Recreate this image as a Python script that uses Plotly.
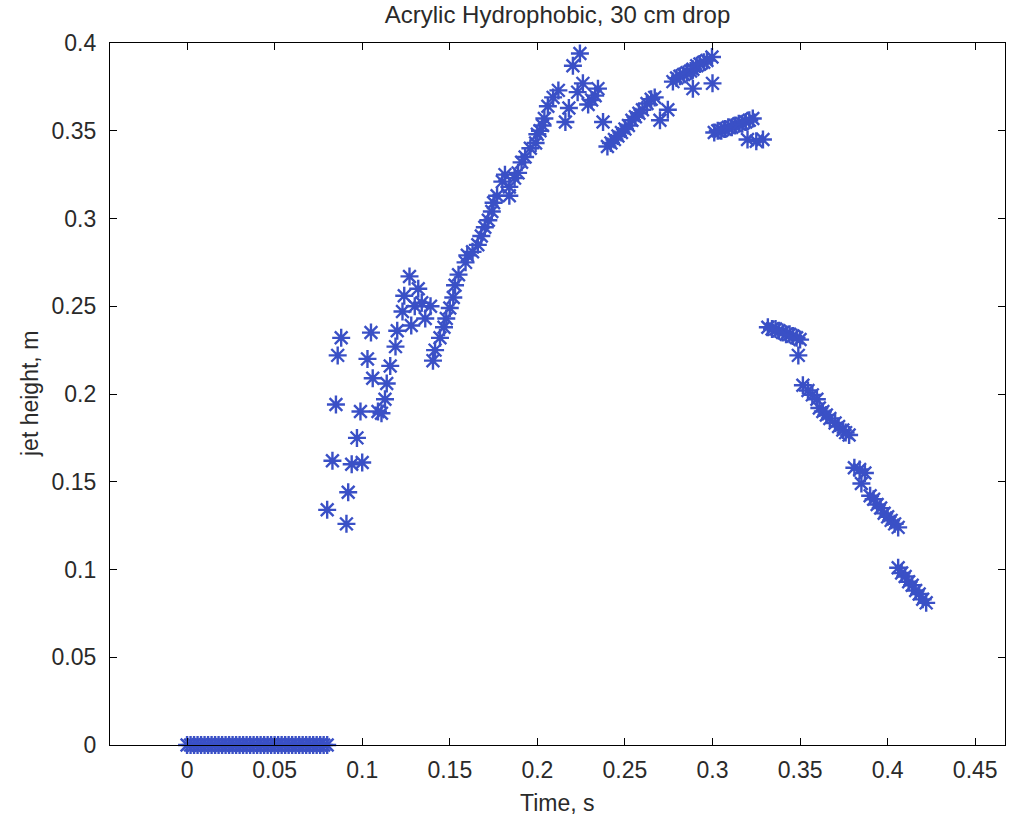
import plotly.graph_objects as go

# ---- data (time in s, jet height in m) ----
t_zero = [0.000, 0.002, 0.004, 0.006, 0.008, 0.010, 0.012, 0.014, 0.016, 0.018,
          0.020, 0.022, 0.024, 0.026, 0.028, 0.030, 0.032, 0.034, 0.036, 0.038,
          0.040, 0.042, 0.044, 0.046, 0.048, 0.050, 0.052, 0.054, 0.056, 0.058,
          0.060, 0.062, 0.064, 0.066, 0.068, 0.070, 0.072, 0.074, 0.076, 0.078, 0.080]
h_zero = [0.0] * len(t_zero)

t_scatter = [0.080, 0.083, 0.085, 0.086, 0.088, 0.091, 0.092, 0.094, 0.097, 0.099,
             0.100, 0.103, 0.105, 0.106, 0.109, 0.111, 0.113, 0.114, 0.116, 0.119,
             0.120, 0.123, 0.124, 0.127, 0.128, 0.130, 0.132, 0.134, 0.136, 0.139]
h_scatter = [0.134, 0.162, 0.194, 0.222, 0.232, 0.126, 0.144, 0.160, 0.175, 0.190,
             0.161, 0.220, 0.235, 0.209, 0.190, 0.189, 0.197, 0.206, 0.216, 0.227,
             0.236, 0.247, 0.256, 0.267, 0.239, 0.250, 0.260, 0.252, 0.243, 0.250]

t_rise = [0.1404, 0.1416, 0.1444, 0.1467, 0.148, 0.150, 0.152, 0.153, 0.155, 0.159,
          0.160, 0.163, 0.166, 0.168, 0.170, 0.172, 0.174, 0.175, 0.177, 0.180,
          0.1815, 0.184, 0.184, 0.187, 0.189, 0.191, 0.193, 0.196, 0.199, 0.200,
          0.2015, 0.203, 0.204, 0.206, 0.209, 0.212]
h_rise = [0.219, 0.225, 0.232, 0.238, 0.243, 0.249, 0.255, 0.262, 0.268, 0.275,
          0.279, 0.281, 0.285, 0.290, 0.295, 0.299, 0.304, 0.309, 0.313, 0.321,
          0.325, 0.318, 0.313, 0.323, 0.326, 0.332, 0.335, 0.340, 0.343, 0.348,
          0.350, 0.353, 0.357, 0.364, 0.369, 0.373]

t_peak = [0.216, 0.218, 0.2203, 0.2243, 0.223, 0.226, 0.229, 0.231, 0.233, 0.2346, 0.2375]
h_peak = [0.355, 0.363, 0.387, 0.394, 0.372, 0.377, 0.365, 0.3675, 0.370, 0.374, 0.355]

t_arc1 = [0.240, 0.242, 0.244, 0.246, 0.248, 0.250, 0.252, 0.254, 0.256, 0.258,
          0.260, 0.2626, 0.265, 0.267, 0.270, 0.2745]
h_arc1 = [0.341, 0.343, 0.345, 0.347, 0.349, 0.351, 0.353, 0.356, 0.358, 0.360,
          0.362, 0.3655, 0.368, 0.369, 0.356, 0.362]

t_arc2 = [0.2774, 0.2795, 0.2814, 0.2835, 0.2854, 0.2875, 0.2888, 0.291, 0.2928,
          0.295, 0.2968, 0.2997, 0.2888, 0.300]
h_arc2 = [0.378, 0.380, 0.381, 0.382, 0.383, 0.384, 0.385, 0.387, 0.388,
          0.389, 0.390, 0.392, 0.374, 0.377]

t_arc3 = [0.301, 0.303, 0.305, 0.307, 0.309, 0.311, 0.313, 0.315, 0.317, 0.319,
          0.321, 0.323, 0.320, 0.325, 0.3288]
h_arc3 = [0.349, 0.350, 0.350, 0.351, 0.352, 0.352, 0.353, 0.354, 0.354, 0.355,
          0.356, 0.357, 0.345, 0.344, 0.345]

t_fall = [0.3316, 0.334, 0.336, 0.338, 0.340, 0.342, 0.344, 0.346, 0.348, 0.350, 0.349,
          0.3516, 0.3545, 0.357, 0.3596, 0.361, 0.363, 0.365, 0.367, 0.370, 0.372,
          0.3744, 0.376, 0.378,
          0.381, 0.384, 0.387, 0.385,
          0.390, 0.392, 0.394, 0.396, 0.398, 0.400, 0.402, 0.404, 0.406,
          0.406, 0.408, 0.410, 0.412, 0.414, 0.416, 0.418, 0.420, 0.422]
h_fall = [0.238, 0.237, 0.237, 0.236, 0.235, 0.234, 0.234, 0.233, 0.232, 0.231, 0.222,
          0.205, 0.202, 0.1995, 0.197, 0.192, 0.190, 0.188, 0.186, 0.1835, 0.1815,
          0.1795, 0.178, 0.1766,
          0.158, 0.157, 0.155, 0.149,
          0.142, 0.140, 0.137, 0.135, 0.132, 0.130, 0.128, 0.126, 0.124,
          0.101, 0.098, 0.096, 0.093, 0.091, 0.088, 0.086, 0.083, 0.081]

time_s = t_zero + t_scatter + t_rise + t_peak + t_arc1 + t_arc2 + t_arc3 + t_fall
height_m = h_zero + h_scatter + h_rise + h_peak + h_arc1 + h_arc2 + h_arc3 + h_fall

x_ticks = [0, 0.05, 0.1, 0.15, 0.2, 0.25, 0.3, 0.35, 0.4, 0.45]
x_labels = ["0", "0.05", "0.1", "0.15", "0.2", "0.25", "0.3", "0.35", "0.4", "0.45"]
y_ticks = [0, 0.05, 0.1, 0.15, 0.2, 0.25, 0.3, 0.35, 0.4]
y_labels = ["0", "0.05", "0.1", "0.15", "0.2", "0.25", "0.3", "0.35", "0.4"]

BLUE = "#3a50c6"
FONT = "Liberation Sans, Arial, sans-serif"
TXT = "#2a2a2a"

fig = go.Figure()
fig.add_trace(go.Scatter(
    x=time_s, y=height_m, mode="markers", cliponaxis=False,
    marker=dict(symbol="asterisk-open", size=15, color=BLUE,
                line=dict(color=BLUE, width=2.4)),
    showlegend=False,
))

axis_common = dict(
    showgrid=False, zeroline=False, showline=True, linecolor="black", linewidth=1.3,
    mirror="ticks", ticks="inside", ticklen=7, tickwidth=1.2, tickcolor="black",
    tickfont=dict(family=FONT, size=23, color=TXT), automargin=False,
)

fig.update_xaxes(range=[-0.044, 0.467], tickvals=x_ticks, ticktext=x_labels,
                 ticklabelstandoff=4, **axis_common)
fig.update_yaxes(range=[0, 0.4], tickvals=y_ticks, ticktext=y_labels,
                 ticklabelstandoff=8, **axis_common)

fig.update_layout(
    width=1010, height=822,
    margin=dict(l=110, r=5, t=43, b=77),
    paper_bgcolor="white", plot_bgcolor="white",
    title=dict(text="Acrylic Hydrophobic, 30 cm drop", x=0.5, xref="paper",
               xanchor="center", y=1 - 15 / 822, yanchor="middle",
               font=dict(family=FONT, size=24, color=TXT)),
    annotations=[
        dict(text="Time, s", xref="paper", yref="paper", x=0.5, y=-58 / 702,
             xanchor="center", yanchor="middle", showarrow=False,
             font=dict(family=FONT, size=23, color=TXT)),
        dict(text="jet height, m", xref="paper", yref="paper", x=-80 / 895, y=0.5,
             xanchor="center", yanchor="middle", textangle=-90, showarrow=False,
             font=dict(family=FONT, size=23, color=TXT)),
    ],
)

fig.write_html("out.html", config={"displayModeBar": False},
               post_script="document.body.style.margin='0';document.body.style.padding='0';")
